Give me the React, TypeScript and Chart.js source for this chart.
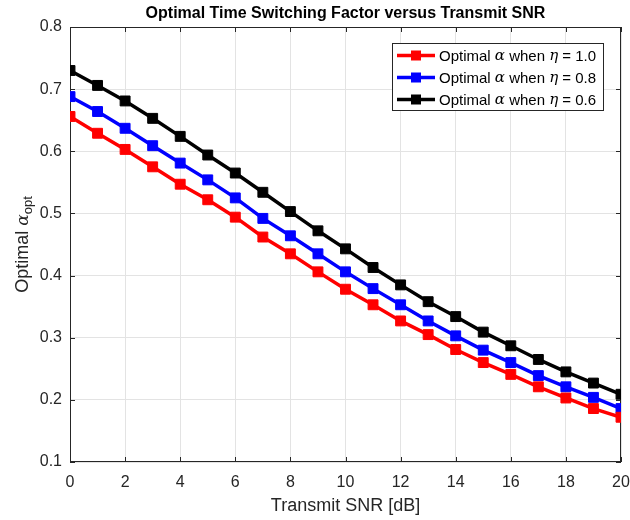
import React, { useEffect, useRef } from "react";
import { Chart, registerables } from "chart.js";

Chart.register(...registerables);

const snr = [0, 1, 2, 3, 4, 5, 6, 7, 8, 9, 10, 11, 12, 13, 14, 15, 16, 17, 18, 19, 20];
const eta10 = [0.656, 0.629, 0.603, 0.575, 0.547, 0.522, 0.494, 0.462, 0.435, 0.406, 0.378, 0.353, 0.327, 0.305, 0.281, 0.260, 0.241, 0.221, 0.203, 0.186, 0.172];
const eta08 = [0.688, 0.664, 0.637, 0.609, 0.581, 0.554, 0.525, 0.492, 0.464, 0.435, 0.406, 0.379, 0.353, 0.327, 0.303, 0.280, 0.260, 0.239, 0.221, 0.204, 0.186];
const eta06 = [0.730, 0.706, 0.681, 0.653, 0.624, 0.594, 0.565, 0.534, 0.503, 0.472, 0.443, 0.413, 0.385, 0.358, 0.334, 0.309, 0.287, 0.265, 0.245, 0.227, 0.209];
const etaLabels = ["1.0", "0.8", "0.6"];
const seriesColors = ["#ff0000", "#0000ff", "#000000"];
const xTicks = [0, 2, 4, 6, 8, 10, 12, 14, 16, 18, 20];
const yTicks = [0.1, 0.2, 0.3, 0.4, 0.5, 0.6, 0.7, 0.8];
const titleText = "Optimal Time Switching Factor versus Transmit SNR";
const xLabel = "Transmit SNR [dB]";

const SANS = '"Liberation Sans", Arial, sans-serif';
const SERIF = '"DejaVu Serif", "Liberation Serif", serif';
const AXIS = "#262626";

type Seg = { t: string; f: string; dy?: number };

function drawSegs(ctx: CanvasRenderingContext2D, segs: Seg[], x: number, y: number) {
  let cx = x;
  for (const s of segs) {
    ctx.font = s.f;
    ctx.fillText(s.t, cx, y + (s.dy || 0));
    cx += ctx.measureText(s.t).width;
  }
  return cx;
}
function segsWidth(ctx: CanvasRenderingContext2D, segs: Seg[]) {
  let w = 0;
  for (const s of segs) {
    ctx.font = s.f;
    w += ctx.measureText(s.t).width;
  }
  return w;
}

const decorPlugin = {
  id: "decor",
  beforeDatasetsDraw(chart: any) {
    const { ctx, chartArea: a, scales } = chart;
    ctx.save();
    ctx.strokeStyle = AXIS;
    ctx.lineWidth = 1;
    ctx.strokeRect(a.left + 0.5, a.top + 0.5, a.right - a.left - 1, a.bottom - a.top - 1);
    const tl = 5;
    ctx.beginPath();
    for (const v of xTicks) {
      const px = Math.round(scales.x.getPixelForValue(v)) + 0.5;
      ctx.moveTo(px, a.bottom);
      ctx.lineTo(px, a.bottom - tl);
      ctx.moveTo(px, a.top);
      ctx.lineTo(px, a.top + tl);
    }
    for (const v of yTicks) {
      const py = Math.round(scales.y.getPixelForValue(v)) + 0.5;
      ctx.moveTo(a.left, py);
      ctx.lineTo(a.left + tl, py);
      ctx.moveTo(a.right, py);
      ctx.lineTo(a.right - tl, py);
    }
    ctx.stroke();
    ctx.restore();
  },
  afterDraw(chart: any) {
    const { ctx, chartArea: a } = chart;
    ctx.save();
    ctx.fillStyle = "#000000";
    ctx.font = `bold 16px ${SANS}`;
    ctx.textAlign = "center";
    ctx.textBaseline = "alphabetic";
    ctx.fillText(titleText, (a.left + a.right) / 2, 18);
    ctx.fillStyle = AXIS;
    ctx.font = `18px ${SANS}`;
    ctx.fillText(xLabel, (a.left + a.right) / 2, 511);
    ctx.textAlign = "left";
    const ySegs: Seg[] = [
      { t: "Optimal ", f: `18px ${SANS}` },
      { t: "α", f: `italic 17px ${SERIF}` },
      { t: "opt", f: `13px ${SANS}`, dy: 4 },
    ];
    ctx.translate(28, (a.top + a.bottom) / 2);
    ctx.rotate(-Math.PI / 2);
    const w = segsWidth(ctx, ySegs);
    drawSegs(ctx, ySegs, -w / 2, 0);
    ctx.restore();

    ctx.save();
    const bx = 392.5, by = 43.5, bw = 211, bh = 67;
    ctx.fillStyle = "#ffffff";
    ctx.fillRect(bx, by, bw, bh);
    ctx.strokeStyle = AXIS;
    ctx.lineWidth = 1;
    ctx.strokeRect(bx, by, bw, bh);
    const rows = [55.5, 77.5, 99.5];
    rows.forEach((ry, i) => {
      const c = seriesColors[i];
      ctx.strokeStyle = c;
      ctx.lineWidth = 3.5;
      ctx.beginPath();
      ctx.moveTo(397, ry);
      ctx.lineTo(435, ry);
      ctx.stroke();
      ctx.fillStyle = c;
      ctx.fillRect(411, ry - 5, 10, 10);
      ctx.fillStyle = "#000000";
      ctx.textBaseline = "middle";
      const segs: Seg[] = [
        { t: "Optimal ", f: `15px ${SANS}` },
        { t: "α", f: `italic 15px ${SERIF}` },
        { t: " when ", f: `15px ${SANS}` },
        { t: "η", f: `italic 15px ${SERIF}` },
        { t: " = " + etaLabels[i], f: `15px ${SANS}` },
      ];
      drawSegs(ctx, segs, 439, ry + 1);
    });
    ctx.restore();
  },
};

export default function App() {
  const ref = useRef<HTMLCanvasElement | null>(null);
  useEffect(() => {
    if (!ref.current) return;
    const all = [eta10, eta08, eta06];
    const chart = new Chart(ref.current, {
      type: "line",
      data: {
        datasets: all.map((vals, i) => ({
          label: "eta = " + etaLabels[i],
          data: snr.map((x, j) => ({ x, y: vals[j] })),
          borderColor: seriesColors[i],
          backgroundColor: seriesColors[i],
          borderWidth: 3.5,
          pointStyle: "rect",
          pointRadius: 7,
          pointBorderWidth: 1,
          pointBorderColor: seriesColors[i],
          pointBackgroundColor: seriesColors[i],
          tension: 0,
          fill: false,
        })),
      },
      options: {
        responsive: false,
        animation: false,
        devicePixelRatio: 1,
        layout: { padding: { top: 27, right: 9, left: 0, bottom: 0 } },
        plugins: {
          legend: { display: false },
          title: { display: false },
          tooltip: { enabled: false },
        },
        scales: {
          x: {
            type: "linear",
            min: 0,
            max: 20,
            afterBuildTicks: (s: any) => {
              s.ticks = xTicks.map((v) => ({ value: v }));
            },
            afterFit: (s: any) => {
              s.height = 58;
              s.paddingLeft = 0;
              s.paddingRight = 0;
            },
            ticks: {
              color: AXIS,
              font: { family: SANS, size: 16 },
              padding: 11,
              maxRotation: 0,
              callback: (v: any) => String(v),
            },
            grid: { color: "#e3e3e3", lineWidth: 1, drawTicks: false },
            border: { display: false },
          },
          y: {
            type: "linear",
            min: 0.1,
            max: 0.8,
            afterBuildTicks: (s: any) => {
              s.ticks = yTicks.map((v) => ({ value: v }));
            },
            afterFit: (s: any) => {
              s.width = 70;
              s.paddingTop = 0;
              s.paddingBottom = 0;
            },
            ticks: {
              color: AXIS,
              font: { family: SANS, size: 16 },
              padding: 8,
              callback: (v: any) => Number(v).toFixed(1),
            },
            grid: { color: "#e3e3e3", lineWidth: 1, drawTicks: false },
            border: { display: false },
          },
        },
      },
      plugins: [decorPlugin],
    } as any);
    return () => chart.destroy();
  }, []);
  return (
    <div style={{ position: "fixed", left: 0, top: 0, width: 630, height: 520, background: "#fff" }}>
      <canvas ref={ref} width={630} height={520} style={{ width: 630, height: 520 }} />
    </div>
  );
}
